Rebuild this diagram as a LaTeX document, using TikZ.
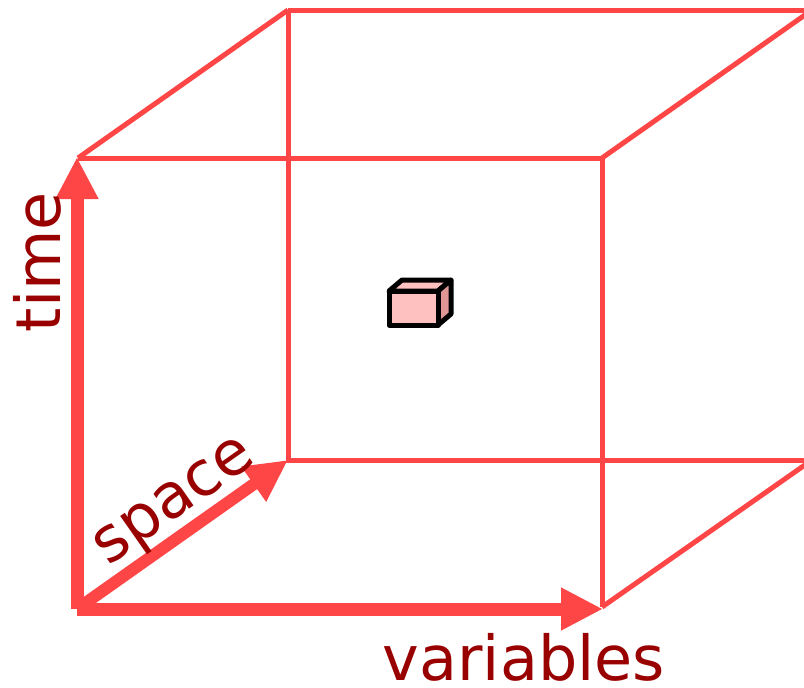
\documentclass[tikz,border=0pt]{standalone}
\usepackage{fontspec}
\setmainfont{DejaVu Sans}
\usetikzlibrary{arrows.meta}
\definecolor{cubered}{RGB}{255,70,70}
\definecolor{labelred}{RGB}{153,0,0}
\definecolor{boxpink}{RGB}{255,192,192}
\definecolor{boxside}{RGB}{225,150,150}
\begin{document}
\begin{tikzpicture}[x=1pt,y=-1pt,
  edge/.style={draw=cubered,line width=5pt},
  axis/.style={draw=cubered,line width=13pt,-{Triangle[length=42pt,width=40pt]}},
  axislabel/.style={text=labelred,font=\fontsize{62}{64}\selectfont,inner sep=0pt},
  boxline/.style={draw=black,line width=5pt,line join=round}]
\useasboundingbox (0,0) rectangle (804,688);
\clip (0,0) rectangle (804,688);
% cube corners
\coordinate (ftl) at (78,158);
\coordinate (ftr) at (602,158);
\coordinate (fbr) at (602,607);
\coordinate (fbl) at (78,607);
\coordinate (btl) at (288,10);
\coordinate (btr) at (812,10);
\coordinate (bbr) at (812,460);
\coordinate (bbl) at (288,460);
% back face
\draw[edge] (btl) -- (btr);
\draw[edge] (btl) -- (bbl) -- (bbr);
% front face
\draw[edge] (ftl) -- (ftr) -- (fbr);
% connecting edges
\draw[edge] (ftl) -- (btl);
\draw[edge] (ftr) -- (btr);
\draw[edge] (fbr) -- (bbr);
% small box
\coordinate (b1) at (389,291);
\coordinate (b2) at (438,291);
\coordinate (b3) at (438,325);
\coordinate (b4) at (389,325);
\coordinate (b5) at (402,280);
\coordinate (b6) at (451,280);
\coordinate (b7) at (451,314);
\filldraw[boxline,fill=boxpink] (b1) -- (b5) -- (b6) -- (b2) -- cycle;
\filldraw[boxline,fill=boxside] (b2) -- (b6) -- (b7) -- (b3) -- cycle;
\filldraw[boxline,fill=boxpink] (b1) rectangle (b3);
% axes
\coordinate (origin) at (77,609);
\coordinate (timeend) at (77,157);
\coordinate (varend) at (603,609);
\draw[axis] (origin) -- (timeend);
\draw[axis,line width=12pt] (origin) -- (bbl);
\draw[axis] (origin) -- (varend);
% labels
\node[axislabel,rotate=90] (tlabel) at (37,262) {time};
\node[axislabel,rotate=35] (slabel) at (177,505) {space};
\node[axislabel,anchor=base] (vlabel) at (524,680) {variables};
\end{tikzpicture}
\end{document}
